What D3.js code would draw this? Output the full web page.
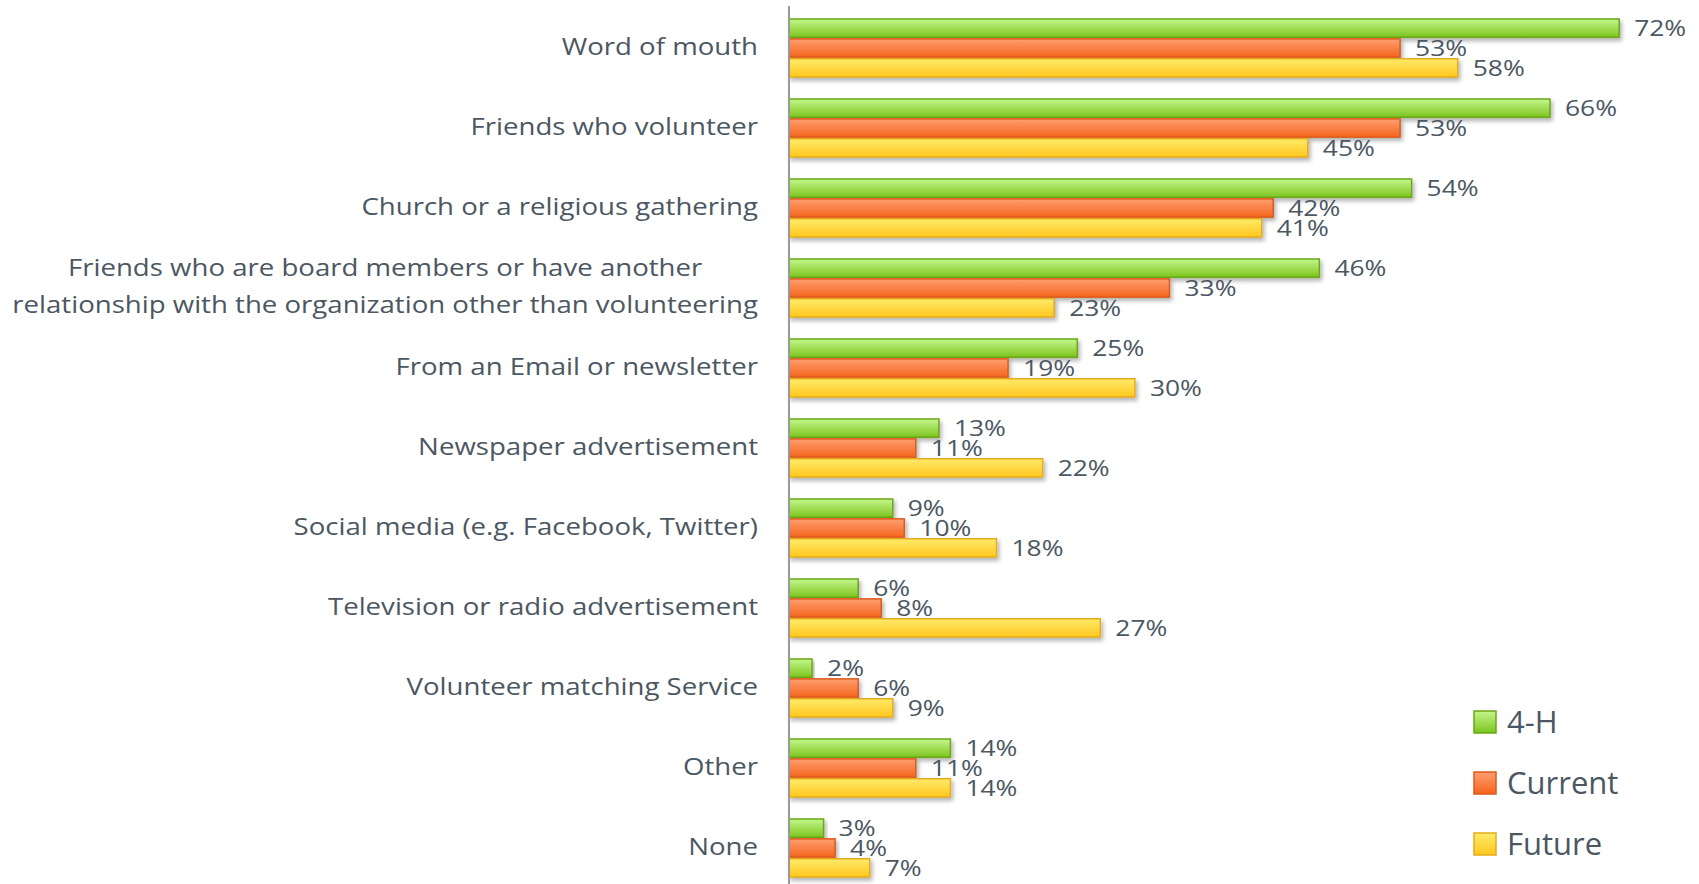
<!DOCTYPE html>
<html>
<head>
<meta charset="utf-8">
<script src="https://cdn.jsdelivr.net/npm/d3@7"></script>
<style>
  html, body { margin: 0; padding: 0; background: #fff; }
  #chart { width: 1699px; height: 884px; }
  text { font-family: "Open Sans", "Noto Sans", sans-serif; fill: #4b5762; }
</style>
</head>
<body>
<div id="chart"></div>
<script>
(() => {
  // categories and series values (percent)
  const categories = [
    ["Word of mouth"],
    ["Friends who volunteer"],
    ["Church or a religious gathering"],
    ["Friends who are board members or have another", "relationship with the organization other than volunteering"],
    ["From an Email or newsletter"],
    ["Newspaper advertisement"],
    ["Social media (e.g. Facebook, Twitter)"],
    ["Television or radio advertisement"],
    ["Volunteer matching Service"],
    ["Other"],
    ["None"]
  ];
  const seriesNames = ["4-H", "Current", "Future"];
  const valuesFourH   = [72, 66, 54, 46, 25, 13, 9, 6, 2, 14, 3];
  const valuesCurrent = [53, 53, 42, 33, 19, 11, 10, 8, 6, 11, 4];
  const valuesFuture  = [58, 45, 41, 23, 30, 22, 18, 27, 9, 14, 7];

  const seriesValues = [valuesFourH, valuesCurrent, valuesFuture];
  const colors = [
    { top: "#c4f78e", bottom: "#7cc41e", stroke: "#6aa814" },
    { top: "#ff9e72", bottom: "#f4651c", stroke: "#dd5a1a" },
    { top: "#ffeb6a", bottom: "#ffc61e", stroke: "#e6ab1c" }
  ];

  const W = 1699, H = 884;
  const axisX = 789;

  const svg = d3.select('#chart').append('svg')
      .attr('width', W).attr('height', H);

  const defs = svg.append('defs');
  colors.forEach((c, i) => {
    const g = defs.append('linearGradient')
        .attr('id', 'grad' + i)
        .attr('x1', 0).attr('y1', 0).attr('x2', 0).attr('y2', 1);
    g.append('stop').attr('offset', '0%').attr('stop-color', c.top);
    g.append('stop').attr('offset', '100%').attr('stop-color', c.bottom);
  });
  const shadow = defs.append('filter').attr('id', 'shadow')
      .attr('x', '-5%').attr('y', '-30%').attr('width', '115%').attr('height', '190%');
  shadow.append('feDropShadow')
      .attr('dx', 2).attr('dy', 3).attr('stdDeviation', 2)
      .attr('flood-color', '#000').attr('flood-opacity', 0.3);

  const xScale = d3.scaleLinear().domain([0, 100]).range([axisX, axisX + 1153]);
  const yScale = d3.scaleBand().domain(d3.range(categories.length)).range([6, 886]);
  const ySub = d3.scaleBand().domain(d3.range(3)).range([13, 71]).paddingInner(0.08);

  // bars
  const groups = svg.selectAll('.group').data(categories).enter()
      .append('g').attr('class', 'group')
      .attr('transform', (d, i) => `translate(0,${yScale(i)})`);

  groups.each(function(d, ci) {
    const g = d3.select(this);
    seriesValues.forEach((vals, si) => {
      g.append('rect')
          .attr('x', xScale(0))
          .attr('y', ySub(si))
          .attr('width', xScale(vals[ci]) - xScale(0))
          .attr('height', ySub.bandwidth())
          .attr('fill', `url(#grad${si})`)
          .attr('stroke', colors[si].stroke)
          .attr('stroke-width', 1.5)
          .attr('filter', 'url(#shadow)');
    });
    // value labels, slightly stretched sideways like the original
    seriesValues.forEach((vals, si) => {
      g.append('text')
          .attr('transform', `translate(${xScale(vals[ci]) + 15},${ySub(si) + ySub.bandwidth() / 2}) scale(1.2,1)`)
          .attr('dy', '0.36em')
          .attr('font-size', '22px')
          .text(vals[ci] + '%');
    });
  });

  // axis line
  svg.append('line')
      .attr('x1', axisX).attr('x2', axisX)
      .attr('y1', 6).attr('y2', H)
      .attr('stroke', '#999').attr('stroke-width', 2);

  // category labels
  const labelRight = 758;
  categories.forEach((lines, i) => {
    const cy = yScale(i) + yScale.bandwidth() / 2;
    const t = svg.append('g')
        .attr('transform', `translate(${labelRight},0) scale(1.15,1)`)
        .append('text')
        .attr('font-size', '24px')
        .attr('text-anchor', 'middle');
    const lh = 37;
    lines.forEach((line, li) => {
      t.append('tspan')
          .attr('y', cy + (li - (lines.length - 1) / 2) * lh)
          .attr('dy', '0.36em')
          .text(line);
    });
    let maxW = 0;
    t.selectAll('tspan').each(function() { maxW = Math.max(maxW, this.getComputedTextLength()); });
    t.selectAll('tspan').attr('x', -maxW / 2);
  });

  // legend
  const legend = svg.append('g').attr('transform', 'translate(1474,711)');
  seriesNames.forEach((name, i) => {
    const row = legend.append('g').attr('transform', `translate(0,${i * 61})`);
    row.append('rect')
        .attr('width', 22).attr('height', 22)
        .attr('fill', `url(#grad${i})`)
        .attr('stroke', colors[i].stroke).attr('stroke-width', 1.5);
    row.append('text')
        .attr('x', 33).attr('y', 11).attr('dy', '0.36em')
        .attr('font-size', '31px')
        .text(name);
  });
})();
</script>
</body>
</html>
